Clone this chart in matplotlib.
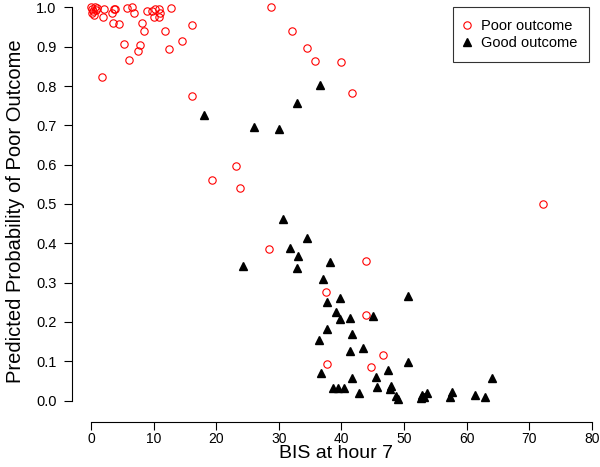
import numpy as np
import matplotlib.pyplot as plt

plt.rcParams['font.family'] = ['Liberation Sans', 'DejaVu Sans']

# BIS at hour 7 vs predicted probability, poor outcome patients
poor_bis = [0.0, 0.2, 0.4, 0.6, 0.8, 0.1, 1.0, 0.5,
            2.1, 3.6, 3.8, 3.3, 1.9, 5.7, 6.5, 6.8, 8.9, 9.7, 10.2, 10.9,
            11.0, 10.1, 10.9, 12.8, 3.5, 4.5, 8.1, 8.5, 11.8, 16.1, 5.2, 7.8,
            7.5, 6.1, 12.5, 14.5, 1.8, 16.2, 23.1, 19.4, 23.8, 28.8, 32.1,
            34.5, 35.8, 40.0, 41.7, 28.5, 44.0, 37.5, 44.0, 46.7, 37.7, 44.7,
            72.2]
poor_prob = [1.0, 0.995, 0.99, 1.0, 0.993, 0.985, 0.998, 0.98,
             0.995, 0.995, 0.997, 0.987, 0.976, 0.999, 1.0, 0.987, 0.99, 0.99,
             0.995, 0.997, 0.985, 0.976, 0.976, 0.999, 0.961, 0.959, 0.961,
             0.94, 0.94, 0.955, 0.908, 0.904, 0.889, 0.866, 0.895, 0.914,
             0.824, 0.774, 0.596, 0.562, 0.541, 1.0, 0.94, 0.896, 0.863, 0.862,
             0.782, 0.386, 0.354, 0.276, 0.217, 0.115, 0.092, 0.086, 0.501]

# good outcome patients
good_bis = [18.1, 26.1, 30.1, 32.9, 36.5, 30.7, 34.5, 31.8, 33.1, 32.9, 24.3,
            38.1, 37.1, 39.7, 37.7, 50.6, 39.1, 45.1, 39.8, 41.4, 37.7, 36.4,
            41.7, 41.4, 43.4, 50.7, 36.7, 47.4, 41.7, 45.5, 64.0, 38.7, 39.4,
            40.4, 42.8, 45.7, 47.9, 47.7, 48.7, 49.0, 52.8, 53.2, 53.7, 52.7,
            57.6, 57.3, 61.3, 63.0]
good_prob = [0.726, 0.696, 0.692, 0.757, 0.804, 0.461, 0.414, 0.388, 0.367,
             0.338, 0.343, 0.353, 0.308, 0.262, 0.251, 0.267, 0.225, 0.215,
             0.208, 0.209, 0.183, 0.153, 0.168, 0.125, 0.134, 0.097, 0.070,
             0.077, 0.058, 0.060, 0.056, 0.031, 0.031, 0.032, 0.020, 0.034,
             0.036, 0.028, 0.011, 0.005, 0.015, 0.009, 0.018, 0.006, 0.022,
             0.008, 0.015, 0.008]

x_ticks = np.arange(0, 81, 10)
y_ticks = np.round(np.arange(0, 1.01, 0.1), 1)

fig = plt.figure(figsize=(6, 4.67), dpi=100)
ax = fig.add_axes([72 / 600, 1 - 422 / 467, 528 / 600, 422 / 467])

ax.plot(poor_bis, poor_prob, 'o', mfc='none', mec='red', ms=5.3, mew=0.8,
        clip_on=False, label='Poor outcome')
ax.plot(good_bis, good_prob, '^', color='black', ms=6, clip_on=False,
        label='Good outcome')

ax.set_xlim(-3.03, 81.3)
ax.set_ylim(-0.0547, 1.019)

# R style axes: detached lines only spanning the tick range
for s in ['top', 'right']:
    ax.spines[s].set_visible(False)
ax.spines['bottom'].set_bounds(0, 80)
ax.spines['left'].set_bounds(0, 1)
ax.spines['bottom'].set_linewidth(0.8)
ax.spines['left'].set_linewidth(0.8)

ax.set_xticks(x_ticks)
ax.set_yticks(y_ticks)
ax.set_yticklabels(['%.1f' % v for v in y_ticks])
ax.tick_params(axis='x', direction='out', length=5.5, width=0.8, pad=2,
               labelsize=10)
ax.tick_params(axis='y', direction='out', length=6, width=0.8, pad=5,
               labelsize=10.5)

ax.set_xlabel('BIS at hour 7', fontsize=14, labelpad=-1)
ax.set_ylabel('Predicted Probability of Poor Outcome', fontsize=14.5,
              labelpad=8)

leg = ax.legend(loc='upper right', bbox_to_anchor=(589 / 600, 1 - 7 / 467),
                bbox_transform=fig.transFigure, borderaxespad=0,
                fancybox=False, edgecolor='black', fontsize=10.5,
                handlelength=0.3, handletextpad=0.8, borderpad=0.8,
                labelspacing=0.25)
leg.get_frame().set_linewidth(0.8)

fig.savefig('out.png', dpi=100)
